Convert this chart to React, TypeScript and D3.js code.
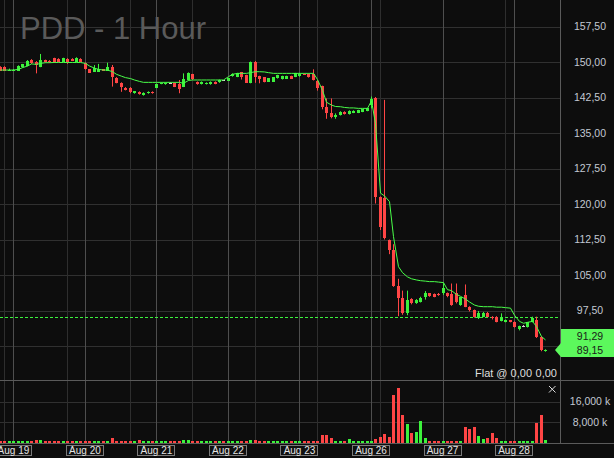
import * as React from "react";
import * as d3 from "d3";

// ---- chart data ----
const chartTitle = "PDD - 1 Hour";
const dayLabels = ["Aug 19", "Aug 20", "Aug 21", "Aug 22", "Aug 23", "Aug 26", "Aug 27", "Aug 28"];
// bar index where each session starts (16 hourly bars per day)
const dayStartBars = [3, 19, 35, 51, 67, 83, 99, 115];
// fainter time grid, every 14 bars
const minorGridBars = [1, 15, 29, 43, 57, 71, 85, 99, 113];
const priceTicks = [90, 97.5, 105, 112.5, 120, 127.5, 135, 142.5, 150, 157.5];
const volumeTicks = [8000, 16000];
const levelLine = 96.1;
const positionText = "Flat @ 0,00";
const positionValue = "0,00";

// [open, high, low, close]
const candles: [number, number, number, number][] = [
  // Aug 16 (tail)
  [149.0, 149.1, 148.1, 148.2], [149.0, 149.1, 148.1, 148.2], [148.2, 148.6, 148.1, 148.4],
  // Aug 19
  [148.2, 148.5, 148.1, 148.4], [148.2, 149.3, 148.1, 149.2], [148.9, 149.6, 148.8, 149.5], [149.2, 150.4, 149.1, 150.3],
  [150.4, 150.6, 149.6, 149.7], [150.1, 150.2, 147.6, 149.4], [149.0, 151.7, 148.9, 150.4], [150.4, 150.5, 149.9, 150.0],
  [150.3, 150.4, 149.8, 149.9], [150.8, 150.9, 149.8, 149.9], [150.7, 150.8, 150.0, 150.1], [150.1, 150.9, 150.0, 150.8],
  [150.7, 150.8, 149.6, 149.7], [150.7, 150.8, 150.2, 150.3], [150.1, 151.0, 150.0, 150.9], [150.7, 150.8, 150.0, 150.1],
  // Aug 20
  [149.85, 149.9, 148.4, 148.45], [148.45, 148.5, 147.7, 147.75], [147.95, 149.35, 147.9, 148.66], [147.95, 149.6, 147.9, 148.6],
  [148.45, 148.5, 148.1, 148.17], [148.17, 149.85, 148.1, 149.0], [149.0, 149.37, 144.8, 146.75], [146.7, 146.8, 145.5, 145.63],
  [145.63, 145.7, 143.7, 144.8], [144.6, 144.7, 144.0, 144.08], [144.6, 144.7, 143.4, 143.6], [143.38, 143.85, 143.3, 143.8],
  [143.73, 143.8, 143.1, 143.17], [143.0, 143.6, 142.9, 143.5], [143.38, 143.8, 143.3, 143.73], [143.73, 143.8, 143.3, 143.38],
  // Aug 21
  [144.6, 145.4, 144.5, 145.3], [145.4, 145.7, 145.3, 145.6], [145.3, 145.7, 145.2, 145.65], [145.65, 145.7, 145.5, 145.62],
  [145.6, 145.7, 144.7, 144.8], [145.3, 146.2, 143.4, 144.3], [144.8, 147.6, 144.7, 146.34], [146.2, 147.8, 146.1, 147.6],
  [147.4, 147.5, 146.2, 146.4], [145.84, 145.9, 145.2, 145.3], [145.3, 145.9, 145.25, 145.84], [145.3, 145.7, 145.25, 145.63],
  [145.3, 145.9, 145.2, 145.84], [145.84, 145.9, 145.3, 145.35], [145.7, 146.3, 145.6, 146.2], [146.1, 146.15, 146.0, 146.06],
  // Aug 22
  [146.05, 146.6, 146.0, 146.55], [147.0, 147.6, 146.9, 147.5], [146.9, 147.7, 146.8, 147.6], [147.8, 147.9, 146.3, 146.9],
  [147.25, 147.3, 145.6, 145.63], [145.63, 150.1, 145.5, 150.07], [150.07, 150.2, 145.6, 146.9], [147.04, 147.1, 145.5, 146.34],
  [146.75, 146.8, 145.7, 145.84], [145.84, 146.6, 145.8, 146.55], [145.84, 146.8, 145.8, 146.75], [146.6, 147.3, 146.5, 147.25],
  [146.4, 147.1, 146.3, 147.04], [146.5, 147.1, 146.4, 147.04], [147.04, 147.1, 146.4, 146.5], [146.9, 147.7, 146.8, 147.6],
  // Aug 23
  [147.0, 147.7, 146.9, 147.45], [147.5, 147.6, 147.3, 147.4], [147.45, 147.6, 146.7, 146.75], [147.45, 148.45, 146.1, 146.2],
  [146.05, 146.2, 143.95, 144.45], [144.9, 145.0, 140.0, 140.55], [140.55, 142.3, 138.0, 139.15], [139.3, 142.3, 138.1, 138.3],
  [138.45, 139.15, 138.0, 138.8], [138.8, 139.6, 138.7, 139.5], [139.5, 139.6, 138.9, 138.95], [138.95, 139.8, 138.9, 139.7],
  [139.3, 139.8, 139.2, 139.7], [139.3, 139.9, 139.2, 139.85], [139.5, 140.1, 139.4, 140.0], [139.7, 140.3, 139.6, 140.2],
  // Aug 26
  [140.9, 142.7, 140.2, 142.1], [142.5, 142.6, 120.1, 121.4], [121.5, 121.6, 114.5, 115.2], [121.2, 142.0, 112.5, 112.8],
  [112.4, 112.5, 109.4, 110.3], [110.3, 111.5, 102.5, 102.7], [102.7, 104.2, 96.3, 100.1], [100.1, 101.7, 96.6, 96.9],
  [96.9, 101.7, 96.5, 99.7], [99.9, 100.1, 98.8, 99.0], [99.1, 99.9, 98.9, 99.8], [99.4, 100.4, 99.2, 100.2],
  [100.3, 101.6, 99.8, 101.3], [101.1, 101.2, 100.4, 100.55], [101.0, 101.1, 100.3, 100.4], [101.0, 101.2, 100.6, 100.7],
  // Aug 27
  [101.1, 103.25, 100.8, 102.2], [101.1, 101.3, 100.3, 100.5], [101.0, 103.2, 98.5, 98.65], [101.1, 103.2, 99.0, 99.2],
  [98.65, 100.3, 98.5, 100.3], [100.8, 103.0, 98.2, 98.3], [98.3, 98.4, 97.3, 97.6], [97.6, 97.7, 96.0, 96.2],
  [95.85, 97.4, 95.7, 97.05], [96.2, 97.2, 96.1, 97.05], [97.05, 97.2, 96.1, 96.2], [96.2, 96.3, 95.6, 95.85],
  [96.2, 96.3, 95.0, 95.15], [95.3, 96.9, 95.2, 95.85], [95.15, 95.6, 95.0, 95.5], [95.4, 95.5, 95.0, 95.15],
  // Aug 28
  [95.0, 95.2, 93.9, 94.1], [93.6, 94.3, 93.3, 94.2], [94.2, 94.4, 94.0, 94.22], [94.1, 95.0, 93.9, 95.15],
  [95.15, 96.2, 95.0, 95.85], [95.5, 96.2, 91.7, 91.95], [91.95, 92.1, 88.9, 89.15], [88.85, 89.3, 88.8, 89.15],
];

// volume in thousands
const volumes = [
  650, 650, 650,
  650, 650, 650, 650, 650, 1100, 1100, 650, 650, 650, 650, 800, 650, 650, 650, 650,
  650, 650, 650, 650, 650, 800, 1900, 900, 650, 650, 650, 900, 1100, 650, 650, 650,
  650, 650, 650, 650, 650, 800, 1100, 1100, 800, 650, 650, 800, 800, 650, 650, 650,
  650, 650, 650, 650, 650, 1100, 1100, 800, 650, 650, 650, 800, 650, 650, 650, 650,
  650, 650, 650, 650, 650, 3000, 3000, 1900, 800, 800, 800, 1500, 800, 650, 650, 650,
  650, 1500, 2400, 3400, 2400, 18500, 21200, 10800, 7300, 3850, 4250, 8500, 1900, 800, 650, 650,
  650, 650, 650, 650, 650, 6150, 5400, 6150, 2700, 1550, 1900, 3850, 1900, 650, 650, 650,
  650, 650, 650, 650, 650, 7700, 10800, 1150,
];

// moving average line
const maValues = [
  148.3, 148.3, 148.3,
  148.3, 148.45, 148.8, 149.15, 149.6, 149.5, 149.7, 149.85, 149.85, 149.9, 149.9, 149.9, 149.9, 149.9, 149.9, 149.9,
  149.7, 149.15, 148.7, 148.45, 148.3, 148.3, 147.95, 147.4, 147.0, 146.7, 146.5, 146.2, 145.9, 145.7, 145.7, 145.7,
  145.7, 145.7, 145.7, 145.7, 145.7, 145.7, 145.5, 146.1, 146.2, 146.2, 146.2, 146.2, 146.2, 146.2, 146.2, 146.2,
  146.9, 147.4, 147.6, 147.6, 147.6, 147.75, 147.95, 147.95, 147.9, 147.75, 147.6, 147.6, 147.6, 147.6, 147.6, 147.6,
  147.6, 147.6, 147.6, 147.6, 146.3, 144.0, 141.5, 140.9, 140.6, 140.55, 140.4, 140.3, 140.3, 140.2, 140.2, 140.2,
  141.8, 137.0, 122.3, 121.7, 120.5, 113.1, 106.75, 105.5, 104.6, 104.2, 103.95, 103.8, 103.7, 103.6, 103.6, 103.5,
  103.4, 101.9, 101.7, 100.9, 100.5, 99.9, 99.3, 98.65, 98.4, 98.3, 98.3, 98.3, 98.2, 98.2, 98.1, 98.0,
  96.5, 95.2, 94.8, 95.0, 95.2, 94.1, 92.0, 91.29,
];

const W = 614;
const H = 458;
const plotRight = 560;
const paneSplit = 380;
const volBase = 443;
const labelX = 590;

const bg = "#0d0d0d";
const up = "#3cf23c";
const down = "#ff4545";
const axisText = "#c3c9d3";
const narrow = "'Liberation Sans Narrow', 'Liberation Sans', Arial, sans-serif";

const euro = d3.formatLocale({ decimal: ",", thousands: ".", grouping: [3], currency: ["", ""] }).format(".2f");
const volFmt = d3.format(",");

export default function App() {
  const n = candles.length;
  const x = d3.scaleLinear().domain([0, n - 1]).range([0, 4.47 * (n - 1)]);
  const y = d3.scaleLinear().domain([90, 157.5]).range([346, 26.5]);
  const yVol = d3.scaleLinear().domain([0, 16000]).range([volBase, 401.5]);

  const maPath = d3.line<number>()
    .x((_, i) => Math.round(x(i)) + 0.5)
    .y(d => y(d))(maValues) || "";

  const last = candles[n - 1][3];
  const lastY = y(last);
  const maY = Math.min(y(maValues[n - 1]), lastY - 13.5);
  const tagTop = lastY - 21;
  const tagBottom = lastY + 7;
  const crisp = (v: number) => Math.round(v) + 0.5;

  // tick labels that sit under the price tag are hidden by it
  const visibleTicks = priceTicks.filter(t => y(t) < tagTop - 4 || y(t) > tagBottom + 4);

  return (
    <svg width={W} height={H} style={{ position: "absolute", left: 0, top: 0, background: bg }}>
      <rect width={W} height={H} fill={bg} />

      {/* horizontal grid */}
      {priceTicks.map(t => (
        <line key={"pg" + t} x1={0} x2={plotRight} y1={crisp(y(t))} y2={crisp(y(t))} stroke="#303030" />
      ))}
      {volumeTicks.map(t => (
        <line key={"vg" + t} x1={0} x2={plotRight} y1={crisp(yVol(t))} y2={crisp(yVol(t))} stroke="#303030" />
      ))}
      {/* vertical grid */}
      {minorGridBars.map(b => (
        <line key={"mg" + b} x1={crisp(x(b))} x2={crisp(x(b))} y1={0} y2={volBase} stroke="#2e2e2e" />
      ))}
      {dayStartBars.map(b => (
        <line key={"dg" + b} x1={crisp(x(b))} x2={crisp(x(b))} y1={0} y2={volBase} stroke="#4e4e4e" />
      ))}

      <text x={20} y={39} fontFamily="'Liberation Sans', Arial, sans-serif" fontSize={31} fill="#5a5a5a">{chartTitle}</text>

      {/* level line */}
      <line x1={0} x2={plotRight} y1={crisp(y(levelLine))} y2={crisp(y(levelLine))} stroke={up} strokeDasharray="3 2" />

      {/* candles */}
      {candles.map(([o, h, l, c], i) => {
        const cx = Math.round(x(i));
        const doji = Math.abs(c - o) < 0.05;
        const col = doji ? "#d8d8d8" : c >= o ? up : down;
        const top = Math.round(y(Math.max(o, c)));
        const bot = Math.round(y(Math.min(o, c)));
        return (
          <g key={"c" + i}>
            <line x1={cx + 0.5} x2={cx + 0.5} y1={y(h)} y2={y(l)} stroke={col} />
            <rect x={cx - 1} y={top} width={3} height={Math.max(1, bot - top)} fill={col} />
          </g>
        );
      })}

      <path d={maPath} fill="none" stroke="#49ff49" strokeWidth={1} />

      {/* volume */}
      {volumes.map((v, i) => {
        const [o, , , c] = candles[i];
        const top = Math.round(yVol(v));
        return (
          <rect key={"v" + i} x={Math.round(x(i)) - 1} y={top} width={3} height={volBase - top} fill={c >= o ? up : down} />
        );
      })}

      {/* pane borders */}
      <line x1={0} x2={W} y1={paneSplit + 0.5} y2={paneSplit + 0.5} stroke="#5a5a5a" />
      <line x1={0} x2={W} y1={volBase + 0.5} y2={volBase + 0.5} stroke="#5a5a5a" />
      <line x1={plotRight + 0.5} x2={plotRight + 0.5} y1={0} y2={volBase} stroke="#5a5a5a" />

      {/* price axis */}
      {visibleTicks.map(t => (
        <text key={"pl" + t} x={labelX} y={y(t) + 3.8} textAnchor="middle" fontFamily={narrow} fontSize={10.5} fill={axisText}>
          {euro(t)}
        </text>
      ))}
      {volumeTicks.map(t => (
        <text key={"vl" + t} x={labelX} y={yVol(t) + 3.8} textAnchor="middle" fontFamily={narrow} fontSize={10.5} fill={axisText}>
          {volFmt(t) + " k"}
        </text>
      ))}

      {/* last price tag */}
      <path
        d={`M${plotRight + 1},${tagTop} H${W} V${tagBottom} H${plotRight + 1} L${plotRight - 5},${lastY} L${plotRight + 1},${lastY - 7} Z`}
        fill="#5cf85c"
      />
      <text x={labelX} y={maY + 3.8} textAnchor="middle" fontFamily={narrow} fontSize={10.5} fill="#1a1a1a">{euro(maValues[n - 1])}</text>
      <text x={labelX} y={lastY + 3.8} textAnchor="middle" fontFamily={narrow} fontSize={10.5} fill="#1a1a1a">{euro(last)}</text>

      {/* position readout and close icon */}
      <text x={532} y={377} textAnchor="end" fontFamily={narrow} fontSize={11} fill="#dedede">{positionText}</text>
      <text x={557} y={377} textAnchor="end" fontFamily={narrow} fontSize={11} fill="#dedede">{positionValue}</text>
      <path d="M549,386 L555.5,392.5 M555.5,386 L549,392.5" stroke="#e0e0e0" strokeWidth={1} />

      {/* date labels */}
      {dayLabels.map((d, i) => {
        const cx = x(dayStartBars[i]);
        return (
          <g key={"d" + d}>
            <rect x={Math.round(cx) - 18.5} y={445.5} width={37} height={10} fill="#111" stroke="#7a7a7a" />
            <text x={cx} y={453.8} textAnchor="middle" fontFamily={narrow} fontSize={10} fill="#e4e4e4">{d}</text>
          </g>
        );
      })}
    </svg>
  );
}
